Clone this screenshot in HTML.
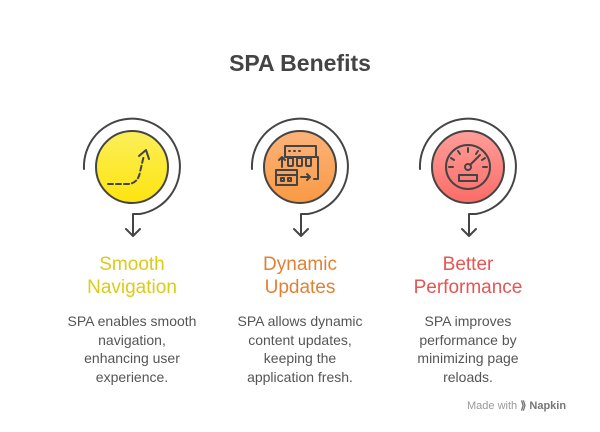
<html><head><style>
body{margin:0;width:600px;height:432px;background:#fff;font-family:"Liberation Sans",sans-serif;position:relative;overflow:hidden}
.t{position:absolute;text-align:center;width:170px;font-size:19px;line-height:23px}
.b{position:absolute;text-align:center;width:170px;font-size:14px;line-height:18.5px;color:#555;white-space:nowrap}
</style></head><body>
<div style="position:absolute;top:50px;width:600px;text-align:center;font-size:23px;font-weight:bold;color:#444">SPA Benefits</div>
<svg width="600" height="432" style="position:absolute;left:0;top:0">
<defs>
<linearGradient id="gy" x1="0" y1="0" x2="0" y2="1"><stop offset="0" stop-color="#fbef5a"/><stop offset="1" stop-color="#fde40e"/></linearGradient>
<linearGradient id="go" x1="0" y1="0" x2="0" y2="1"><stop offset="0" stop-color="#fdb27a"/><stop offset="1" stop-color="#f99a44"/></linearGradient>
<linearGradient id="gr" x1="0" y1="0" x2="0" y2="1"><stop offset="0" stop-color="#ff9e9a"/><stop offset="1" stop-color="#fb6c68"/></linearGradient>
</defs>
<g fill="none" stroke="#444" stroke-width="2" stroke-linecap="round" stroke-linejoin="round">
<g transform="translate(132,167)">
<circle r="36" fill="url(#gy)"/>
<path d="M-48 2 A48 48 0 1 1 8 47 L1 47 L1 69 M-6 62 L1 69 L8 62"/>
<path d="M-24 17 H-5 Q6 17 8 5 L12 -12" stroke-dasharray="5 3"/>
<path d="M7 -11 L14 -17 L17 -8"/>
</g>
<g transform="translate(300,167)">
<circle r="36" fill="url(#go)"/>
<path d="M-48 2 A48 48 0 1 1 8 47 L1 47 L1 69 M-6 62 L1 69 L8 62"/>
<rect x="-15" y="-21" width="31" height="11"/>
<path d="M-11 -16h1M-6 -16h1M-1 -16h1"/>
<path d="M-18 0 V-10 M-21 -7 L-18 -10 L-15 -7"/>
<rect x="-12" y="-9" width="5" height="8" rx="1"/><rect x="-3" y="-9" width="5" height="8" rx="1"/><rect x="6" y="-9" width="5" height="8" rx="1"/>
<rect x="-24" y="3" width="21" height="15"/><path d="M-24 8 H-3"/>
<rect x="-19" y="11" width="3" height="3"/><rect x="-12" y="11" width="3" height="3"/>
<path d="M1 10 H10 M7 7 L10 10 L7 13 M14 12 H18 V-10 H16"/>
</g>
<g transform="translate(468,167)">
<circle r="36" fill="url(#gr)"/>
<path d="M-48 2 A48 48 0 1 1 8 47 L1 47 L1 69 M-6 62 L1 69 L8 62"/>
<circle r="22"/>
<circle r="3"/>
<path d="M2 -2 L12 -12"/>
<path d="M0 -19 V-15 M-10 -16 L-8 -13 M-17 -9 L-14 -7 M-19 0 H-15 M10 -16 L8 -13 M17 -9 L14 -7 M19 0 H15"/>
<rect x="-9" y="8" width="18" height="6"/>
</g>
</g>
</svg>
<div class="t" style="left:47px;top:253px;color:#dccb17">Smooth<br>Navigation</div>
<div class="t" style="left:215px;top:253px;color:#e08235">Dynamic<br>Updates</div>
<div class="t" style="left:383px;top:253px;color:#e55552">Better<br>Performance</div>
<div class="b" style="left:47px;top:312px">SPA enables smooth<br>navigation,<br>enhancing user<br>experience.</div>
<div class="b" style="left:215px;top:312px">SPA allows dynamic<br>content updates,<br>keeping the<br>application fresh.</div>
<div class="b" style="left:383px;top:312px">SPA improves<br>performance by<br>minimizing page<br>reloads.</div>
<div style="position:absolute;left:467px;top:399px;font-size:11px;color:#999">Made with <b style="color:#777">⟫ Napkin</b></div>
</body></html>
